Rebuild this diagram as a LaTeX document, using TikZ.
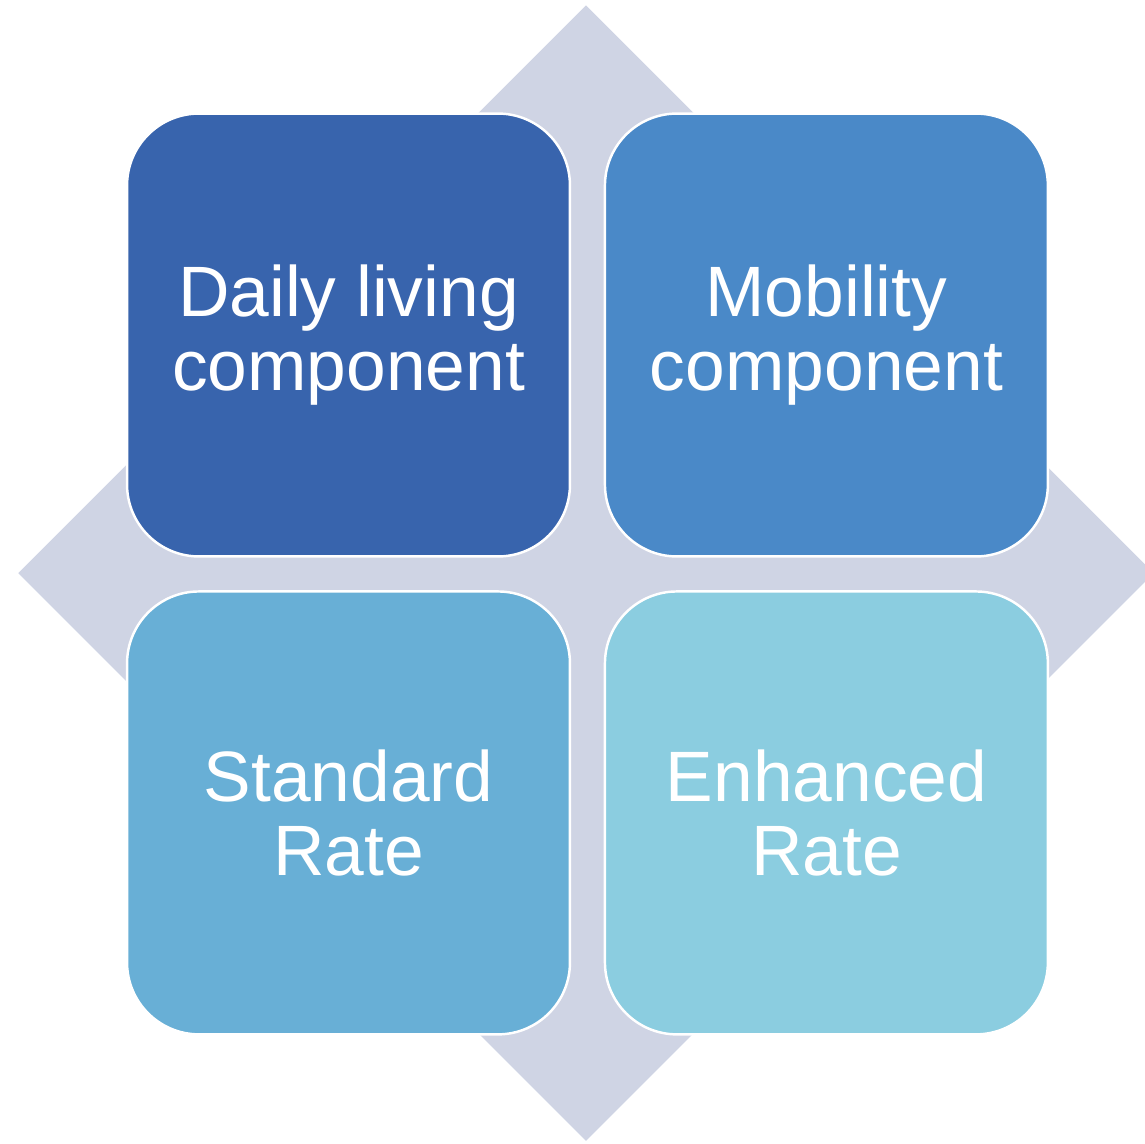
\documentclass[tikz,border=0pt]{standalone}
\usepackage{fontspec}
\setmainfont{Liberation Sans}
\usetikzlibrary{positioning,shapes.geometric}
\definecolor{backgray}{RGB}{207,212,228}
\definecolor{dailyblue}{RGB}{56,100,173}
\definecolor{mobblue}{RGB}{74,137,200}
\definecolor{stdblue}{RGB}{104,175,214}
\definecolor{enhblue}{RGB}{139,205,224}
\tikzset{
    %Define style for the backdrop
    backdrop/.style={
           diamond,
           aspect=1,
           fill=backgray,
           inner sep=0pt,
           minimum width=22.72cm,
           minimum height=22.72cm,
           },
    %Define style for boxes
    part/.style={
           rectangle,
           rounded corners=1.44cm,
           draw=white, line width=1.4pt,
           minimum width=8.86cm,
           minimum height=8.86cm,
           outer sep=0pt,
           font=\fontsize{40.6}{42.1}\selectfont,
           text=white,
           align=center,
           }
}
\begin{document}
\begin{tikzpicture}[x=0.02cm,y=-0.02cm,node distance=0.7cm,main node/.style={part}]
\useasboundingbox (0,0) rectangle (1145,1143);
\node[backdrop](back) at (586,573){};
\node[main node, fill=dailyblue](1) at (348.5,335){Daily living\\component};
\node[main node, fill=mobblue, right=of 1](2){Mobility\\component};
\node[main node, fill=stdblue, below=of 1](3){Standard\\Rate};
\node[main node, fill=enhblue, below=of 2](4){Enhanced\\Rate};
\end{tikzpicture}
\end{document}
